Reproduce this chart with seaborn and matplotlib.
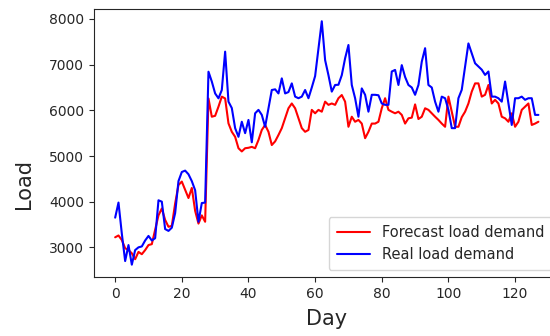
import numpy as np
import pandas as pd
import matplotlib
matplotlib.use("Agg")
import matplotlib.pyplot as plt
import seaborn as sns

real = [3650, 3980, 3300, 2700, 3050, 2620, 2940, 3000, 3020, 3150,
        3250, 3150, 3200, 4030, 4000, 3400, 3360, 3430, 3750, 4450,
        4650, 4680, 4600, 4450, 4250, 3560, 3970, 3980, 6846, 6630,
        6370, 6263, 6445, 7285, 6190, 6050, 5610, 5420, 5750, 5500,
        5790, 5300, 5935, 6010, 5900, 5640, 6045, 6445, 6460, 6370,
        6700, 6370, 6400, 6590, 6300, 6265, 6300, 6445, 6265, 6500,
        6750, 7360, 7950, 7100, 6770, 6410, 6555, 6560, 6770, 7140,
        7430, 6555, 6265, 5860, 6480, 6340, 5970, 6340, 6340, 6330,
        6150, 6120, 6120, 6850, 6885, 6555, 6990, 6730, 6555, 6500,
        6340, 6555, 7065, 7360, 6555, 6500, 6190, 5970, 6300, 6265,
        6010, 5610, 5610, 6265, 6450, 6950, 7465, 7250, 7030, 6960,
        6890, 6775, 6850, 6300, 6300, 6265, 6190, 6630, 6150, 5680,
        6265, 6265, 6300, 6230, 6265, 6265, 5900, 5900]

forecast = [3220, 3260, 3160, 2980, 2940, 2870, 2740, 2900, 2850, 2940,
            3050, 3070, 3380, 3700, 3850, 3600, 3450, 3470, 3960, 4365,
            4440, 4260, 4080, 4300, 3800, 3520, 3700, 3560, 6260, 5860,
            5880, 6080, 6300, 6260, 5715, 5530, 5420, 5170, 5100, 5170,
            5180, 5200, 5170, 5350, 5570, 5680, 5530, 5240, 5320, 5460,
            5610, 5825, 6045, 6150, 6045, 5825, 5610, 5530, 5570, 6010,
            5935, 6010, 5970, 6190, 6120, 6150, 6120, 6265, 6335, 6190,
            5640, 5860, 5750, 5790, 5710, 5390, 5530, 5710, 5710, 5750,
            6045, 6265, 6010, 5970, 5935, 5970, 5900, 5710, 5825, 5840,
            6130, 5810, 5860, 6045, 6010, 5935, 5860, 5790, 5710, 5640,
            6300, 5970, 5640, 5640, 5850, 5970, 6150, 6410, 6590, 6590,
            6300, 6340, 6555, 6150, 6230, 6150, 5860, 5825, 5750, 5935,
            5640, 5750, 6010, 6080, 6150, 5680, 5710, 5750]

series_names = ["Forecast load demand", "Real load demand"]
colors = ["red", "blue"]

days = np.arange(len(real))
df = pd.concat([
    pd.DataFrame({"Day": days, "Load": forecast, "Series": series_names[0]}),
    pd.DataFrame({"Day": days, "Load": real, "Series": series_names[1]}),
])

sns.set_style("ticks")
plt.rcParams['font.family'] = ['DejaVu Sans']

fig = plt.figure(figsize=(5.5, 3.36), dpi=100)
ax = fig.add_axes([0.1709, 0.1747, 0.8465, 0.7976])
sns.lineplot(data=df, x="Day", y="Load", hue="Series",
             palette=dict(zip(series_names, colors)), linewidth=1.5, ax=ax)
ax.set_xlim(-6.35, 133.35)
ax.set_ylim(2344, 8212)
ax.set_xticks([0, 20, 40, 60, 80, 100, 120])
ax.set_yticks([3000, 4000, 5000, 6000, 7000, 8000])
ax.tick_params(labelsize=10)
ax.set_xlabel("Day", fontsize=15, labelpad=6)
ax.set_ylabel("Load", fontsize=15)
ax.yaxis.set_label_coords(-0.129, 0.35)
ax.legend(loc="lower right", fontsize=10.5, frameon=True,
          handlelength=2.3, borderpad=0.55)
for s in ax.spines.values():
    s.set_visible(True)
fig.savefig("out.png", dpi=100)
